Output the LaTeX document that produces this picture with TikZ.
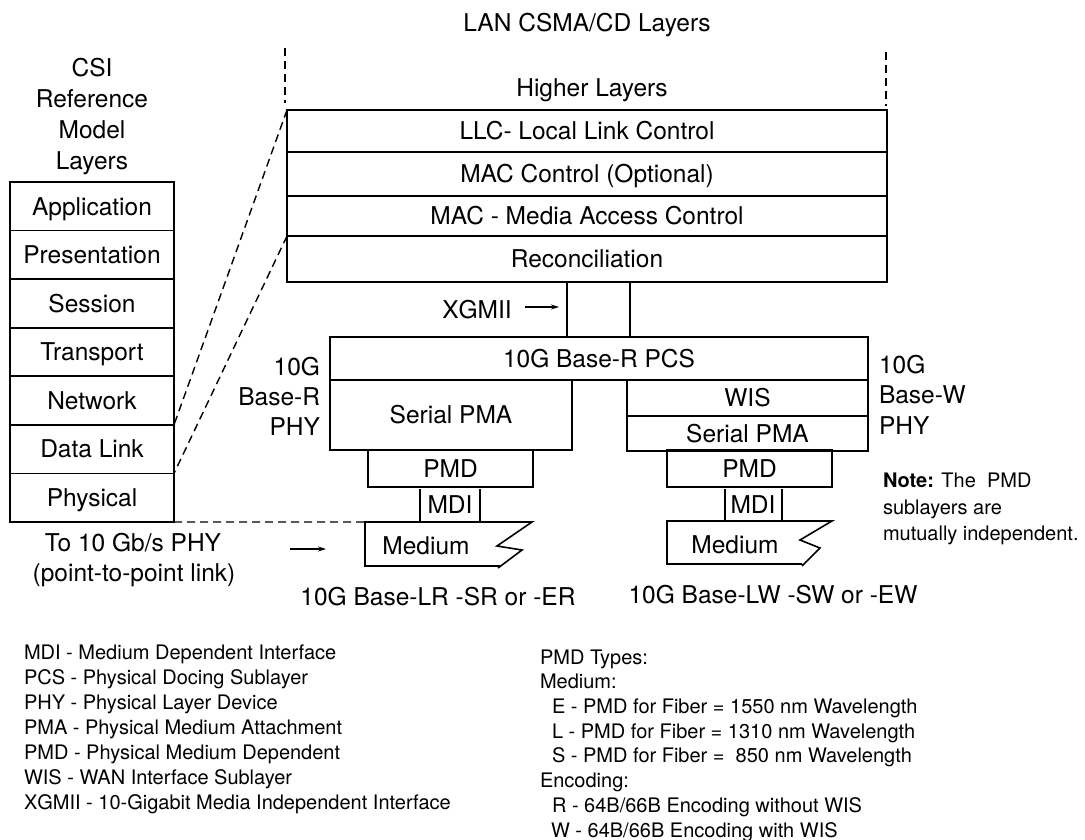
\documentclass[tikz,border=0pt]{standalone}
\usepackage{fontspec}
\setmainfont{TeX Gyre Heros}
\usetikzlibrary{arrows.meta}
\begin{document}
\begin{tikzpicture}[x=1pt,y=-1pt,
  every node/.style={inner sep=0pt, outer sep=0pt},
  big/.style={font=\fontsize{24.5}{28}\selectfont, text height=17.5pt, text depth=0pt},
  small/.style={font=\fontsize{20}{24}\selectfont, text height=14.3pt, text depth=0pt},
  layer/.style={big, draw, line width=1.6pt, rectangle},
  leg/.style={small, anchor=west},
  dsh/.style={line width=1.4pt, dash pattern=on 8pt off 5pt},
  ln/.style={line width=1.6pt},
  arr/.style={line width=1.1pt, -{Stealth[length=8pt,width=5pt]}}]
\useasboundingbox (0,0) rectangle (1085,840);

% OSI column
\node[big] (csi1) at (92,68) {CSI};
\node[big] (csi2) at (92,99) {Reference};
\node[big] (csi3) at (92,130) {Model};
\node[big] (csi4) at (92,161) {Layers};
\foreach \t [count=\i] in {Application,Presentation,Session,Transport,Network,Data Link,Physical}
  \node[layer, minimum width=164pt, minimum height=48.57pt] (osi\i) at (92,{182+48.57*(\i-0.5)}) {\t};

% LAN layers
\node[big] (title) at (587,23) {LAN CSMA/CD Layers};
\node[big] (higher) at (592,88) {Higher Layers};
\node[layer, minimum width=600pt, minimum height=42pt] (llc) at (587,131) {LLC- Local Link Control};
\node[layer, minimum width=600pt, minimum height=44pt] (macc) at (587,174) {MAC Control (Optional)};
\node[layer, minimum width=600pt, minimum height=40pt] (mac) at (587,216) {MAC - Media Access Control};
\node[layer, minimum width=600pt, minimum height=46pt] (rec) at (587,259) {Reconciliation};

\coordinate (dl1) at (285,48); \coordinate (dl2) at (285,103);
\coordinate (dr1) at (886,52); \coordinate (dr2) at (886,106);
\draw[dsh] (dl1) -- (dl2);
\draw[dsh] (dr1) -- (dr2);
\draw[dsh] (llc.north west) -- (osi6.north east);
\draw[dsh] (rec.north west) -- (osi7.north east);

% XGMII
\node[big] (xg) at (477,310) {XGMII};
\coordinate (xga) at (525,307); \coordinate (xgb) at (559,307);
\draw[arr] (xga) -- (xgb);
\coordinate (v1) at (567,0); \coordinate (v2) at (630,0);

% PHY boxes
\node[layer, minimum width=538pt, minimum height=43pt] (pcs) at (599,358.5) {10G Base-R PCS};
\draw[ln] (v1 |- rec.south) -- (v1 |- pcs.north);
\draw[ln] (v2 |- rec.south) -- (v2 |- pcs.north);
\node[layer, minimum width=242pt, minimum height=70pt] (pmaL) at (451,415) {Serial PMA};
\node[layer, minimum width=241pt, minimum height=36pt] (wis) at (747.5,398) {WIS};
\node[layer, minimum width=241pt, minimum height=35pt] (pmaR) at (747.5,433.5) {Serial PMA};
\node[layer, minimum width=165pt, minimum height=37pt] (pmdL) at (450.5,468.5) {PMD};
\node[layer, minimum width=165pt, minimum height=37pt] (pmdR) at (749.5,468.5) {PMD};

\node[big, anchor=east] (rp1) at (320,367) {10G};
\node[big, anchor=east] (rp2) at (320,397) {Base-R};
\node[big, anchor=east] (rp3) at (320,427) {PHY};
\node[big, anchor=west] (wp1) at (879,365) {10G};
\node[big, anchor=west] (wp2) at (879,395) {Base-W};
\node[big, anchor=west] (wp3) at (879,426) {PHY};

% MDI and medium, left
\draw[ln] (420,489) -- (420,522);
\draw[ln] (480,489) -- (480,522);
\node[big] (mdiL) at (450,505) {MDI};
\coordinate (medL) at (365,522);
\draw[ln] (500,566) -- (365,566) -- (medL) -- (532,522) -- (497,546) -- (522,550) -- (498,568);
\node[big] (mediumL) at (426,546) {Medium};
\draw[dsh] (osi7.south east) -- (medL);

% MDI and medium, right
\draw[ln] (725,489) -- (725,521);
\draw[ln] (782,489) -- (782,521);
\node[big] (mdiR) at (753,505) {MDI};
\draw[ln] (802,564) -- (667,564) -- (667,521) -- (832,521) -- (800,540) -- (820,548) -- (802,566);
\node[big] (mediumR) at (735,545) {Medium};

% captions
\node[big] (to1) at (133,543) {To 10 Gb/s PHY};
\node[big] (to2) at (134,573) {(point-to-point link)};
\coordinate (ta) at (290,549); \coordinate (tb) at (326,549);
\draw[arr] (ta) -- (tb);
\node[big] (capL) at (438,597) {10G Base-LR -SR or -ER};
\node[big] (capR) at (773,595) {10G Base-LW -SW or -EW};

\node[leg] (n1) at (883,480) {\textbf{Note:} The\ \ PMD};
\node[leg] (n2) at (883,507) {sublayers are};
\node[leg] (n3) at (883,533) {mutually independent.};

% legends
\foreach \t [count=\i] in {MDI - Medium Dependent Interface, PCS - Physical Docing Sublayer, PHY - Physical Layer Device, PMA - Physical Medium Attachment, PMD - Physical Medium Dependent, WIS - WAN Interface Sublayer, XGMII - 10-Gigabit Media Independent Interface}
  \node[leg] (la\i) at (24,{652+25*(\i-1)}) {\t};
\foreach \x/\t [count=\i] in {540/{PMD Types:}, 540/{Medium:}, 552/{E - PMD for Fiber = 1550 nm Wavelength}, 552/{L - PMD for Fiber = 1310 nm Wavelength}, 552/{S - PMD for Fiber =\ \ 850 nm Wavelength}, 540/{Encoding:}, 552/{R - 64B/66B Encoding without WIS}, 551/{W - 64B/66B Encoding with WIS}}
  \node[leg] (lb\i) at (\x,{657+24.7*(\i-1)}) {\t};
\end{tikzpicture}
\end{document}
